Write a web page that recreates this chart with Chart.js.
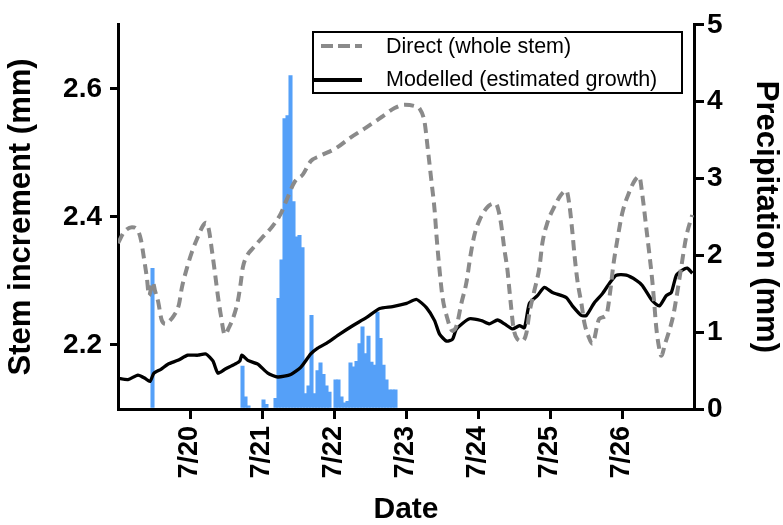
<!DOCTYPE html>
<html>
<head>
<meta charset="utf-8">
<script src="https://cdn.jsdelivr.net/npm/chart.js@4/dist/chart.umd.min.js"></script>
<style>
  html, body { margin: 0; padding: 0; background: #fff; }
  canvas { display: block; }
</style>
</head>
<body>
<canvas id="chart" width="783" height="525"></canvas>
<script>
// x values are days of July (19 = 7/19 00:00)
const dateTicks = [20, 21, 22, 23, 24, 25, 26];
const stemTicks = [2.2, 2.4, 2.6];

const directDays = [
  19.000, 19.083, 19.194, 19.264, 19.319, 19.361, 19.402, 19.430, 19.485, 19.513,
  19.555, 19.610, 19.666, 19.721, 19.777, 19.846, 19.888, 19.957, 20.026, 20.110,
  20.179, 20.221, 20.262, 20.304, 20.346, 20.387, 20.429, 20.484, 20.540, 20.595,
  20.665, 20.706, 20.734, 20.790, 20.873, 20.997, 21.136, 21.261, 21.344, 21.455,
  21.566, 21.677, 21.802, 22.024, 22.218, 22.440, 22.662, 22.842, 22.981, 23.120,
  23.189, 23.258, 23.300, 23.355, 23.397, 23.424, 23.466, 23.508, 23.563, 23.646,
  23.702, 23.771, 23.840, 23.896, 23.951, 24.021, 24.146, 24.243, 24.312, 24.368,
  24.409, 24.437, 24.465, 24.492, 24.548, 24.617, 24.673, 24.714, 24.783, 24.853,
  24.894, 24.964, 25.061, 25.144, 25.227, 25.269, 25.311, 25.338, 25.380, 25.436,
  25.477, 25.533, 25.588, 25.685, 25.782, 25.838, 25.879, 25.935, 26.004, 26.101,
  26.184, 26.240, 26.282, 26.337, 26.379, 26.420, 26.448, 26.476, 26.518, 26.545,
  26.601, 26.656, 26.712, 26.753, 26.822, 26.892, 26.975
];
const directMm = [
  2.359, 2.376, 2.384, 2.381, 2.364, 2.335, 2.304, 2.277, 2.298, 2.285,
  2.269, 2.238, 2.233, 2.238, 2.246, 2.263, 2.290, 2.320, 2.345, 2.369,
  2.386, 2.391, 2.380, 2.348, 2.313, 2.277, 2.246, 2.216, 2.227, 2.241,
  2.269, 2.298, 2.321, 2.339, 2.351, 2.367, 2.384, 2.405, 2.427, 2.455,
  2.466, 2.487, 2.495, 2.507, 2.523, 2.539, 2.556, 2.570, 2.575, 2.573,
  2.569, 2.548, 2.509, 2.454, 2.411, 2.370, 2.317, 2.274, 2.246, 2.222,
  2.230, 2.266, 2.298, 2.340, 2.372, 2.395, 2.417, 2.421, 2.395, 2.348,
  2.317, 2.285, 2.254, 2.227, 2.209, 2.206, 2.219, 2.250, 2.285, 2.321,
  2.359, 2.391, 2.416, 2.433, 2.441, 2.419, 2.376, 2.343, 2.301, 2.265,
  2.235, 2.214, 2.202, 2.241, 2.247, 2.285, 2.324, 2.364, 2.406, 2.439,
  2.458, 2.463, 2.435, 2.383, 2.343, 2.301, 2.265, 2.227, 2.194, 2.183,
  2.203, 2.222, 2.246, 2.272, 2.321, 2.369, 2.403
];

const modelledDays = [
  19.000, 19.139, 19.277, 19.374, 19.444, 19.499, 19.596, 19.693, 19.832, 19.971,
  20.110, 20.221, 20.318, 20.387, 20.484, 20.623, 20.692, 20.720, 20.803, 20.942,
  21.080, 21.219, 21.400, 21.538, 21.677, 21.774, 21.899, 22.079, 22.259, 22.454,
  22.634, 22.814, 23.008, 23.147, 23.286, 23.397, 23.466, 23.563, 23.646, 23.702,
  23.882, 24.049, 24.160, 24.271, 24.368, 24.479, 24.576, 24.645, 24.714, 24.825,
  24.922, 25.033, 25.227, 25.311, 25.436, 25.505, 25.616, 25.727, 25.824, 25.921,
  26.060, 26.199, 26.282, 26.421, 26.518, 26.615, 26.685, 26.755, 26.838, 26.907,
  26.977
];
const modelledMm = [
  2.148, 2.146, 2.153, 2.148, 2.143, 2.156, 2.162, 2.170, 2.176, 2.184,
  2.184, 2.186, 2.175, 2.156, 2.162, 2.170, 2.175, 2.184, 2.176, 2.170,
  2.156, 2.150, 2.154, 2.165, 2.186, 2.195, 2.203, 2.217, 2.230, 2.243,
  2.257, 2.260, 2.265, 2.271, 2.258, 2.238, 2.217, 2.206, 2.209, 2.225,
  2.241, 2.238, 2.233, 2.239, 2.233, 2.225, 2.230, 2.227, 2.265, 2.277,
  2.290, 2.282, 2.274, 2.261, 2.246, 2.246, 2.266, 2.280, 2.296, 2.309,
  2.309, 2.301, 2.293, 2.269, 2.261, 2.277, 2.282, 2.309, 2.317, 2.320,
  2.312
];

// hourly precipitation, hour counted from 7/19 00:00
const rainHours = [
  11, 41, 42, 43, 48, 49, 52, 53, 54, 55, 56, 57, 58, 59, 60, 61, 62, 63, 64, 65,
  66, 67, 68, 69, 70, 72, 73, 74, 75, 76, 77, 78, 79, 80, 81, 82, 83, 84, 85, 86,
  87, 88, 89, 90, 91, 92
];
const rainMm = [
  1.83, 0.56, 0.16, 0.04, 0.12, 0.06, 0.14, 1.44, 1.94, 3.78, 3.82, 4.34, 2.70, 2.24, 2.26, 2.10, 0.20, 0.30, 1.22, 0.20,
  0.50, 0.60, 0.45, 0.30, 0.22, 0.38, 0.38, 0.16, 0.08, 0.10, 0.60, 0.55, 0.62, 0.85, 1.07, 0.72, 0.95, 0.61, 0.57, 1.26,
  0.92, 0.57, 0.38, 0.25, 0.25, 0.25
];

const FONT = "'Liberation Sans', Arial, Helvetica, sans-serif";
const GRAY = "#8a8a8a";
const BLUE = "#55a0f8";

const toPoints = (xs, ys) => xs.map((x, i) => ({ x: x, y: ys[i] }));
const rainPoints = rainHours.map((h, i) => ({ x: 19 + (h + 0.5) / 24, y: rainMm[i] }));

const axisGrid = (len) => ({
  drawOnChartArea: false,
  drawTicks: true,
  tickLength: len,
  tickWidth: 3,
  tickColor: "#000",
  color: "#000",
  lineWidth: 3,
  offset: false,
});
const axisBorder = { display: true, color: "#000", width: 3 };

const legendBox = {
  id: "legendBox",
  afterDraw(chart) {
    const ctx = chart.ctx;
    ctx.save();
    ctx.strokeStyle = "#000";
    ctx.lineWidth = 2;
    ctx.strokeRect(313, 32, 369, 61);

    ctx.lineWidth = 4;
    ctx.strokeStyle = GRAY;
    ctx.setLineDash([12, 5]);
    ctx.beginPath();
    ctx.moveTo(321, 46);
    ctx.lineTo(362, 46);
    ctx.stroke();

    ctx.setLineDash([]);
    ctx.strokeStyle = "#000";
    ctx.beginPath();
    ctx.moveTo(314, 80);
    ctx.lineTo(362, 80);
    ctx.stroke();

    ctx.fillStyle = "#000";
    ctx.font = "21.5px " + FONT;
    ctx.textBaseline = "middle";
    ctx.textAlign = "left";
    ctx.fillText("Direct (whole stem)", 386, 47);
    ctx.fillText("Modelled (estimated growth)", 386, 80);
    ctx.restore();
  },
};

new Chart(document.getElementById("chart"), {
  type: "line",
  data: {
    datasets: [
      {
        label: "Direct (whole stem)",
        data: toPoints(directDays, directMm),
        yAxisID: "y",
        borderColor: GRAY,
        borderWidth: 4,
        borderDash: [10, 6],
        pointRadius: 0,
        cubicInterpolationMode: "monotone",
        fill: false,
        order: 1,
      },
      {
        label: "Modelled (estimated growth)",
        data: toPoints(modelledDays, modelledMm),
        yAxisID: "y",
        borderColor: "#000",
        borderWidth: 3.3,
        pointRadius: 0,
        tension: 0.2,
        fill: false,
        order: 2,
      },
      {
        type: "bar",
        label: "Precipitation",
        data: rainPoints,
        yAxisID: "y2",
        backgroundColor: BLUE,
        borderWidth: 0,
        barThickness: 3.4,
        grouped: false,
        order: 3,
      },
    ],
  },
  options: {
    responsive: false,
    devicePixelRatio: 1,
    animation: false,
    layout: { padding: { top: 24, left: 0, right: 0, bottom: 0 } },
    plugins: {
      legend: { display: false },
      tooltip: { enabled: false },
    },
    scales: {
      x: {
        type: "linear",
        position: "bottom",
        min: 19,
        max: 27,
        offset: false,
        grid: axisGrid(10),
        border: axisBorder,
        afterBuildTicks: (axis) => {
          axis.ticks = dateTicks.map((v) => ({ value: v }));
        },
        afterFit: (axis) => { axis.height = 116; },
        ticks: {
          minRotation: 90,
          maxRotation: 90,
          padding: 7,
          color: "#000",
          font: { family: FONT, size: 27, weight: "bold" },
          callback: (v) => "7/" + v,
        },
        title: {
          display: true,
          text: "Date",
          color: "#000",
          font: { family: FONT, size: 30, weight: "bold", lineHeight: 1 },
          padding: { top: 0, bottom: 0 },
        },
      },
      y: {
        type: "linear",
        position: "left",
        min: 2.1,
        max: 2.7,
        grid: axisGrid(8),
        border: axisBorder,
        afterBuildTicks: (axis) => {
          axis.ticks = stemTicks.map((v) => ({ value: v }));
        },
        afterFit: (axis) => { axis.width = 118; },
        ticks: {
          padding: 8,
          color: "#000",
          font: { family: FONT, size: 28, weight: "bold" },
          callback: (v) => v.toFixed(1),
        },
        title: {
          display: true,
          text: "Stem increment (mm)",
          color: "#000",
          font: { family: FONT, size: 31, weight: "bold", lineHeight: 1 },
          padding: { top: 6, bottom: 0 },
        },
      },
      y2: {
        type: "linear",
        position: "right",
        min: 0,
        max: 5,
        grid: axisGrid(10),
        border: axisBorder,
        afterFit: (axis) => { axis.width = 89; },
        ticks: {
          stepSize: 1,
          padding: 3,
          color: "#000",
          font: { family: FONT, size: 28, weight: "bold" },
        },
        title: {
          display: true,
          text: "Precipitation (mm)",
          color: "#000",
          font: { family: FONT, size: 31, weight: "bold", lineHeight: 1 },
          padding: { top: 2, bottom: 0 },
        },
      },
    },
  },
  plugins: [legendBox],
});
</script>
</body>
</html>
